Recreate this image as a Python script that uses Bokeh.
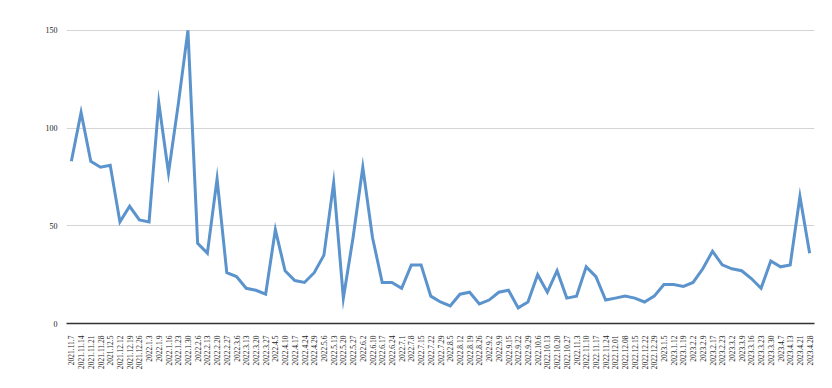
from bokeh.plotting import figure
from bokeh.models import Range1d, FixedTicker, FactorRange
from bokeh.embed import file_html
from bokeh.resources import INLINE

dates = ["2021.11.7", "2021.11.14", "2021.11.21", "2021.11.28", "2021.12.5", "2021.12.12",
         "2021.12.19", "2021.12.26", "2022.1.3", "2022.1.9", "2022.1.16", "2022.1.23",
         "2022.1.30", "2022.2.6", "2022.2.13", "2022.2.20", "2022.2.27", "2022.3.6",
         "2022.3.13", "2022.3.20", "2022.3.27", "2022.4.5", "2022.4.10", "2022.4.17",
         "2022.4.24", "2022.4.29", "2022.5.6", "2022.5.13", "2022.5.20", "2022.5.27",
         "2022.6.2", "2022.6.10", "2022.6.17", "2022.6.24", "2022.7.1", "2022.7.8",
         "2022.7.15", "2022.7.22", "2022.7.29", "2022.8.5", "2022.8.12", "2022.8.19",
         "2022.8.26", "2022.9.2", "2022.9.9", "2022.9.15", "2022.9.22", "2022.9.29",
         "2022.10.6", "2022.10.13", "2022.10.20", "2022.10.27", "2022.11.3", "2022.11.10",
         "2022.11.17", "2022.11.24", "2022.12.01", "2022.12.08", "2022.12.15", "2022.12.22",
         "2022.12.29", "2023.1.5", "2023.1.12", "2023.1.19", "2023.2.2", "2023.2.9",
         "2023.2.17", "2023.2.23", "2023.3.2", "2023.3.9", "2023.3.16", "2023.3.23",
         "2023.3.30", "2023.4.7", "2023.4.13", "2023.4.21", "2023.4.28"]

values = [83, 108, 83, 80, 81, 52, 60, 53, 52, 113, 77, 112,
          150, 41, 36, 74, 26, 24, 18, 17, 15, 48, 27, 22,
          21, 26, 35, 72, 13, 44, 80, 44, 21, 21, 18, 30,
          30, 14, 11, 9, 15, 16, 10, 12, 16, 17, 8, 11,
          25, 16, 27, 13, 14, 29, 24, 12, 13, 14, 13, 11,
          14, 20, 20, 19, 21, 28, 37, 30, 28, 27, 23, 18,
          32, 29, 30, 65, 36]

y_ticks = [0, 50, 100, 150]

p = figure(width=824, height=380, x_range=FactorRange(*dates, range_padding=0),
           y_range=Range1d(0, 152), output_backend="svg", toolbar_location=None,
           min_border_left=66, min_border_right=10, min_border_top=26, min_border_bottom=57)
p.outline_line_color = None
p.background_fill_color = "white"

p.line(x=dates, y=values, line_color="#5b93cc", line_width=3, line_join="miter")

p.yaxis.ticker = FixedTicker(ticks=y_ticks)
p.yaxis.axis_line_color = None
p.yaxis.major_tick_line_color = None
p.yaxis.minor_tick_line_color = None
p.yaxis.major_label_standoff = 3
p.yaxis.major_label_text_font = "Liberation Serif"
p.yaxis.major_label_text_font_size = "8px"
p.yaxis.major_label_text_color = "#222222"

p.xaxis.axis_line_color = "#333333"
p.xaxis.axis_line_width = 1.5
p.xaxis.major_tick_line_color = None
p.xaxis.minor_tick_line_color = None
p.xaxis.major_label_orientation = 1.5708
p.xaxis.major_label_standoff = 6
p.xaxis.major_label_text_font = "Liberation Serif"
p.xaxis.major_label_text_font_size = "7.5px"
p.xaxis.major_label_text_color = "#222222"

p.xgrid.grid_line_color = None
p.ygrid.grid_line_color = "#d4d4d4"
p.ygrid.grid_line_width = 1

open("out.html", "w").write(file_html(p, INLINE))
